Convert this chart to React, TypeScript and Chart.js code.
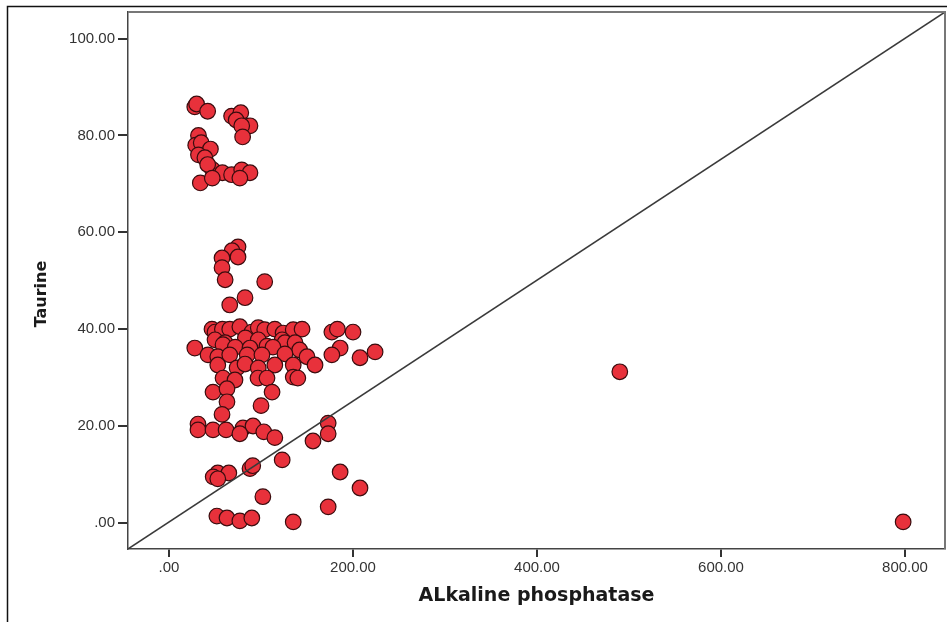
import React, { useEffect, useRef } from "react";
import { Chart, registerables } from "chart.js";

Chart.register(...registerables);

// Alkaline phosphatase (x) and Taurine (y)
const alkalinePhosphatase: number[] = [
  // top cluster
  28, 30, 42, 68, 78, 73, 84, 88, 79, 80, 32, 29, 35, 45, 32, 39, 47, 42, 34, 58, 68, 79, 88, 77, 47,
  // upper middle
  75, 68.5, 75, 57.6, 57.6, 61, 104, 82.6, 66,
  // ~40
  46.7, 50, 58, 66, 77, 90, 97, 104, 115, 124, 135, 144.6, 177, 183, 200,
  // ~37
  50, 83, 97, 123, 61, 126, 137, 58.7,
  // ~36
  28, 72, 88, 106.5, 113, 186, 224, 142,
  // ~34.5
  42.4, 53, 66, 85, 101, 126, 150, 177, 207.6,
  // ~32.5
  53, 74, 82.6, 97, 115, 135, 158.7,
  // ~30
  58.7, 71.7, 96.7, 106.5, 135, 140,
  // ~27
  47.8, 63, 112,
  // ~24
  63, 100, 57.6,
  // lower
  31.5, 31.5, 47.8, 62, 80.4, 91.3, 77, 103, 115, 173, 173, 156.5, 123, 88, 91, 53, 48, 65, 53, 186,
  207.6, 102, 173, 52, 63, 77, 90, 135,
  // outliers
  490, 798,
];

const taurine: number[] = [
  85.9, 86.5, 85, 84, 84.7, 83.2, 82, 82, 82, 79.7, 80, 78, 78.5, 77.2, 76, 75.4, 73, 74, 70.2, 72.3, 71.9, 72.9, 72.3, 71.2, 71.2,
  57, 56.2, 54.9, 54.7, 52.7, 50.2, 49.8, 46.5, 45,
  40, 39.4, 40, 40, 40.5, 39.4, 40.3, 39.9, 40, 39.2, 39.9, 40, 39.4, 40, 39.4,
  37.8, 38.2, 37.8, 37.8, 37.2, 37.2, 37.2, 36.8,
  36.1, 36.3, 36.1, 36.5, 36.3, 36.1, 35.3, 35.7,
  34.7, 34.3, 34.7, 34.7, 34.7, 34.9, 34.3, 34.7, 34.1,
  32.6, 32, 32.8, 32, 32.6, 32.6, 32.6,
  29.9, 29.5, 29.9, 29.9, 30.1, 29.9,
  27, 27.7, 27,
  25, 24.2, 22.4,
  20.4, 19.2, 19.2, 19.2, 19.6, 20, 18.4, 18.8, 17.6, 20.6, 18.4, 16.9, 13, 11.2, 11.8, 10.3, 9.5, 10.3, 9.1, 10.5,
  7.2, 5.4, 3.3, 1.4, 1, 0.4, 1, 0.2,
  31.2, 0.2,
];

const xTicks: number[] = [0, 200, 400, 600, 800];
const yTicks: number[] = [0, 20, 40, 60, 80, 100];

const X_MIN = -44.6;
const X_MAX = 843.5;
const Y_MIN = -5.4;
const Y_MAX = 105.5;

const X_TITLE = "ALkaline phosphatase";
const Y_TITLE = "Taurine";

const fmt = (v: number) => (v === 0 ? ".00" : v.toFixed(2));

export default function App() {
  const ref = useRef<HTMLCanvasElement | null>(null);

  useEffect(() => {
    const canvas = ref.current;
    if (!canvas) return;

    const points = alkalinePhosphatase.map((x, i) => ({ x, y: taurine[i] }));

    const decor = {
      id: "decor",
      afterDraw(chart: any) {
        const { ctx, chartArea } = chart;
        const { left, right, top, bottom } = chartArea;
        ctx.save();
        // plot frame (top and right)
        ctx.strokeStyle = "#777";
        ctx.lineWidth = 2;
        ctx.beginPath();
        ctx.moveTo(left, top);
        ctx.lineTo(right, top);
        ctx.lineTo(right, bottom);
        ctx.stroke();
        // outer figure frame
        ctx.strokeStyle = "#111";
        ctx.lineWidth = 1.5;
        ctx.beginPath();
        ctx.moveTo(7.5, 622);
        ctx.lineTo(7.5, 6.5);
        ctx.lineTo(947, 6.5);
        ctx.stroke();
        // axis titles
        ctx.fillStyle = "#1a1a1a";
        ctx.font = "bold 19px 'DejaVu Sans'";
        ctx.textAlign = "center";
        ctx.textBaseline = "middle";
        ctx.fillText(X_TITLE, (left + right) / 2, 596);
        ctx.translate(42, 294);
        ctx.rotate(-Math.PI / 2);
        ctx.font = "bold 16px 'DejaVu Sans'";
        ctx.fillText(Y_TITLE, 0, 0);
        ctx.restore();
      },
    };

    const chart = new Chart(canvas, {
      type: "scatter",
      data: {
        datasets: [
          {
            type: "line",
            data: [
              { x: X_MIN, y: Y_MIN },
              { x: X_MAX, y: Y_MAX },
            ],
            borderColor: "#3a3a3a",
            borderWidth: 1.5,
            pointRadius: 0,
            fill: false,
            order: 0,
          } as any,
          {
            type: "scatter",
            data: points,
            backgroundColor: "#e8313b",
            borderColor: "#3a0c0e",
            borderWidth: 1.2,
            pointRadius: 7.8,
            pointHoverRadius: 7.8,
            order: 1,
          },
        ],
      },
      options: {
        responsive: false,
        animation: false,
        devicePixelRatio: 1,
        layout: { autoPadding: false, padding: { left: 0, top: 12, right: 2, bottom: 0 } },
        plugins: {
          legend: { display: false },
          tooltip: { enabled: false },
        },
        scales: {
          x: {
            type: "linear",
            min: X_MIN,
            max: X_MAX,
            afterBuildTicks: (scale: any) => {
              scale.ticks = xTicks.map((v) => ({ value: v }));
            },
            afterFit: (scale: any) => {
              scale.height = 73;
              scale.paddingLeft = 0;
              scale.paddingRight = 0;
            },
            ticks: {
              callback: (v: any) => fmt(Number(v)),
              color: "#333",
              font: { family: "'Liberation Sans', Arial, sans-serif", size: 15 },
              padding: 2,
              maxRotation: 0,
            },
            grid: {
              drawOnChartArea: false,
              drawTicks: true,
              tickLength: 8,
              color: "#333",
              lineWidth: 2,
            },
            border: { display: true, color: "#444", width: 1.5 },
          },
          y: {
            type: "linear",
            min: Y_MIN,
            max: Y_MAX,
            afterBuildTicks: (scale: any) => {
              scale.ticks = yTicks.map((v) => ({ value: v }));
            },
            afterFit: (scale: any) => {
              scale.width = 128;
              scale.paddingTop = 0;
              scale.paddingBottom = 0;
            },
            ticks: {
              callback: (v: any) => fmt(Number(v)),
              color: "#333",
              font: { family: "'Liberation Sans', Arial, sans-serif", size: 15 },
              padding: 3,
            },
            grid: {
              drawOnChartArea: false,
              drawTicks: true,
              tickLength: 10,
              color: "#333",
              lineWidth: 2,
            },
            border: { display: true, color: "#444", width: 1.5 },
          },
        },
      },
      plugins: [decor],
    });

    return () => chart.destroy();
  }, []);

  return (
    <div style={{ position: "fixed", left: 0, top: 0, width: 947, height: 622, background: "#fff" }}>
      <canvas ref={ref} width={947} height={622} style={{ display: "block" }} />
    </div>
  );
}
